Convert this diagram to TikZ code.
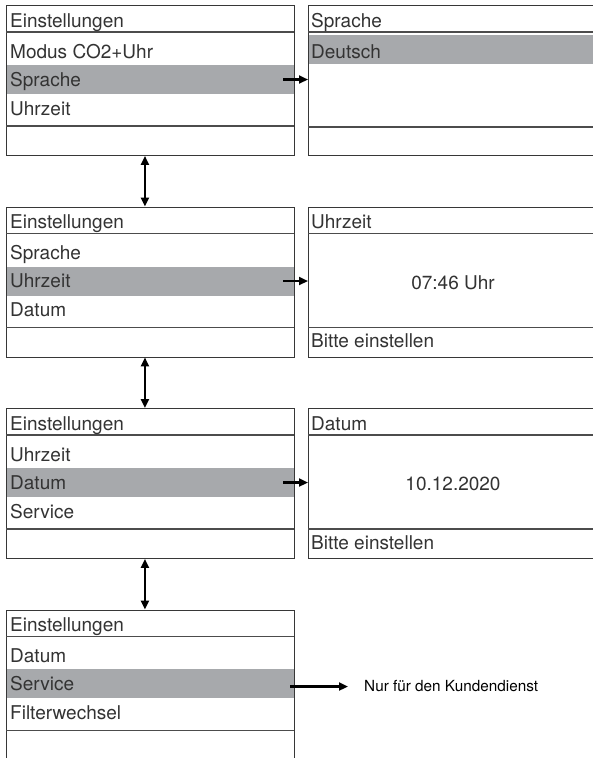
\documentclass[tikz,border=0pt]{standalone}
\usepackage{fontspec}
\setmainfont{TeX Gyre Heros}
\usetikzlibrary{arrows.meta,positioning}
\definecolor{selgray}{RGB}{167,169,172}
\definecolor{linegray}{RGB}{55,55,55}
\tikzset{
  frame/.style={draw=linegray, line width=0.9pt, inner sep=0pt,
    minimum width=288pt, minimum height=150pt},
  wide/.style={minimum width=290pt},
  selrow/.style={fill=selgray, inner sep=0pt, minimum width=288pt, minimum height=29pt},
  sep/.style={draw=black!70, line width=1.2pt},
  item/.style={anchor=base west, inner sep=0pt, text=black!80,
    font=\fontsize{19}{22}\selectfont},
  value/.style={inner sep=0pt, text=black!80, font=\fontsize{19}{22}\selectfont},
  arr/.style={line width=2.2pt, -{Triangle[length=9pt,width=8pt]}},
  varr/.style={line width=2.2pt, {Triangle[length=9pt,width=8pt]}-{Triangle[length=9pt,width=8pt]}}
}
\begin{document}
\begin{tikzpicture}[x=1pt,y=-1pt]
  \clip (0,0) rectangle (593,758);
  \fill[white] (0,0) rectangle (593,758);
  % Einstellungen / Sprache
  \begin{scope}[yshift=-5pt]
    \node[selrow] (sel1) at (150,74.5) {};
    \node[frame, anchor=north west] (set1) at (6,0) {};
    \draw[sep] (6,27) -- (294,27) (6,121) -- (294,121);
    \node[item] (t1) at (10,22) {Einstellungen};
    \node[item] (a1) at (10,53) {Modus CO2+Uhr};
    \node[item] (b1) at (10,81) {Sprache};
    \node[item] (c1) at (10,110) {Uhrzeit};
    \node[selrow, wide] (dsel) at (453,44.5) {};
    \node[frame, wide, anchor=north west] (sub1) at (308,0) {};
    \draw[sep] (308,27) -- (598,27) (308,122) -- (598,122);
    \node[item] (st1) at (311,22) {Sprache};
    \node[item] (sd1) at (311,53) {Deutsch};
  \end{scope}
  % Einstellungen / Uhrzeit
  \begin{scope}[yshift=-206.5pt]
    \node[selrow] (sel2) at (150,74.5) {};
    \node[frame, anchor=north west] (set2) at (6,0) {};
    \draw[sep] (6,27) -- (294,27) (6,121) -- (294,121);
    \node[item] (t2) at (10,22) {Einstellungen};
    \node[item] (a2) at (10,53) {Sprache};
    \node[item] (b2) at (10,81) {Uhrzeit};
    \node[item] (c2) at (10,110) {Datum};
    \node[frame, wide, anchor=north west] (sub2) at (308,0) {};
    \draw[sep] (308,27) -- (598,27) (308,121) -- (598,121);
    \node[item] (st2) at (311,22) {Uhrzeit};
    \node[value] (time) at (453,76) {07:46 Uhr};
    \node[item] (sf2) at (311,141) {Bitte einstellen};
  \end{scope}
  % Einstellungen / Datum
  \begin{scope}[yshift=-408pt]
    \node[selrow] (sel3) at (150,74.5) {};
    \node[frame, anchor=north west] (set3) at (6,0) {};
    \draw[sep] (6,27) -- (294,27) (6,121) -- (294,121);
    \node[item] (t3) at (10,22) {Einstellungen};
    \node[item] (a3) at (10,53) {Uhrzeit};
    \node[item] (b3) at (10,81) {Datum};
    \node[item] (c3) at (10,110) {Service};
    \node[frame, wide, anchor=north west] (sub3) at (308,0) {};
    \draw[sep] (308,27) -- (598,27) (308,121) -- (598,121);
    \node[item] (st3) at (311,22) {Datum};
    \node[value] (date) at (453,76) {10.12.2020};
    \node[item] (sf3) at (311,141) {Bitte einstellen};
  \end{scope}
  % Einstellungen / Service
  \begin{scope}[yshift=-609.5pt]
    \node[selrow] (sel4) at (150,74) {};
    \node[frame, anchor=north west, minimum height=170pt] (set4) at (6,0) {};
    \draw[sep] (6,27) -- (294,27) (6,121) -- (294,121);
    \node[item] (t4) at (10,22) {Einstellungen};
    \node[item] (a4) at (10,53) {Datum};
    \node[item] (b4) at (10,81) {Service};
    \node[item] (c4) at (10,110) {Filterwechsel};
    \node[anchor=west, inner sep=0pt, font=\fontsize{15.3}{18}\selectfont]
      (note) at (364,77) {Nur für den Kundendienst};
  \end{scope}
  % arrows
  \draw[arr] ([xshift=-11pt]sel1.east) -- (sel1.center -| sub1.west);
  \draw[arr] ([xshift=-11pt]sel2.east) -- (sel2.center -| sub2.west);
  \draw[arr] ([xshift=-11pt]sel3.east) -- (sel3.center -| sub3.west);
  \draw[arr] ([xshift=-4pt]sel4.east |- note.west) -- ([xshift=-16pt]note.west);
  \draw[varr] ([xshift=-5.5pt]set1.south) -- ([xshift=-5.5pt]set2.north);
  \draw[varr] ([xshift=-5.5pt]set2.south) -- ([xshift=-5.5pt]set3.north);
  \draw[varr] ([xshift=-5.5pt]set3.south) -- ([xshift=-5.5pt]set4.north);
\end{tikzpicture}
\end{document}
